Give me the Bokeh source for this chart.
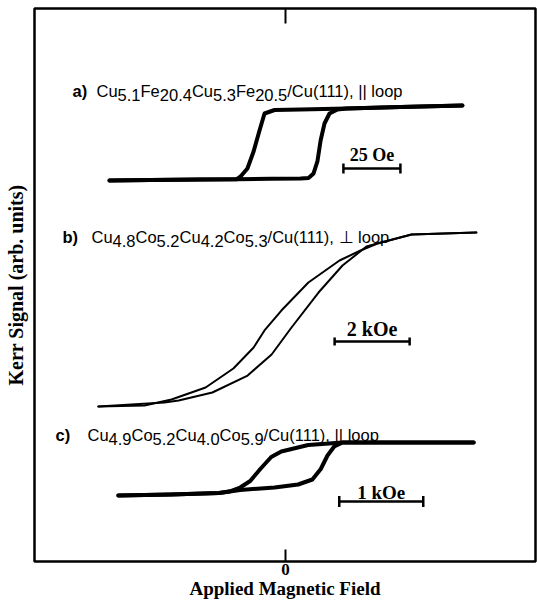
from bokeh.plotting import figure
from bokeh.models import Range1d, LinearAxis, FixedTicker, Label
from bokeh.embed import file_html
from bokeh.resources import INLINE

# ---------------- data ----------------
# panel a) field in Oe, Kerr signal normalised to +-1
a_up_field = [-77.2, -59.2, -37.3, -21.1, -6.6, 6.6, 10.1, 12.3, 14.0, 15.4, 17.1, 19.3, 22.8, 26.8, 50.4, 77.6]
a_up_signal = [-1.0, -0.987, -0.973, -0.965, -0.955, -0.947, -0.933, -0.813, -0.493, 0.067, 0.52, 0.787, 0.893, 0.92, 0.96, 1.0]
a_down_field = [77.6, 50.4, 26.8, 6.6, -4.8, -9.2, -11.4, -14.0, -16.7, -19.7, -21.5, -37.3, -59.2, -77.2]
a_down_signal = [1.0, 0.96, 0.92, 0.893, 0.88, 0.787, 0.333, -0.227, -0.68, -0.893, -0.968, -0.973, -0.987, -1.0]

# panel b) field in kOe
b_down_field = [5.09, 3.36, 2.45, 2.0, 1.44, 0.61, -0.11, -0.56, -0.85, -1.39, -2.13, -3.04, -3.76, -4.99]
b_down_signal = [1.0, 0.977, 0.874, 0.793, 0.678, 0.425, 0.103, -0.126, -0.322, -0.563, -0.782, -0.920, -0.989, -1.0]
b_up_field = [-4.99, -3.23, -2.85, -1.95, -1.01, -0.37, 0.16, 0.88, 1.52, 2.16, 2.45, 3.36, 5.09]
b_up_signal = [-1.0, -0.954, -0.931, -0.839, -0.644, -0.402, -0.092, 0.310, 0.621, 0.839, 0.874, 0.977, 1.0]

# panel c) field in kOe
c_down_field = [2.24, 1.37, 0.68, 0.27, -0.05, -0.17, -0.30, -0.42, -0.54, -0.67, -0.79, -1.36, -1.99]
c_down_signal = [1.0, 1.0, 1.0, 0.904, 0.654, 0.442, -0.019, -0.481, -0.731, -0.885, -0.942, -1.0, -1.04]
c_up_field = [-1.99, -1.36, -0.79, -0.54, -0.13, 0.15, 0.32, 0.42, 0.50, 0.58, 0.68, 1.37, 2.24]
c_up_signal = [-1.04, -1.0, -0.942, -0.827, -0.731, -0.615, -0.423, -0.019, 0.5, 0.846, 1.0, 1.0, 1.0]

# sample labels
panel_tags = ["a)", "b)", "c)"]
a_layers = [("Cu", "5.1"), ("Fe", "20.4"), ("Cu", "5.3"), ("Fe", "20.5")]
b_layers = [("Cu", "4.8"), ("Co", "5.2"), ("Cu", "4.2"), ("Co", "5.3")]
c_layers = [("Cu", "4.9"), ("Co", "5.2"), ("Cu", "4.0"), ("Co", "5.9")]
substrate = "/Cu(111), "
loop_types = ["|| loop", "\u22a5 loop", "|| loop"]

# scale bars
bar_values = [25, 2, 1]
bar_units = ["Oe", "kOe", "kOe"]
bar_starts = [25.4, 1.31, 0.64]   # field at which each bar starts

x_ticks = [0]
x_tick_labels = {0: "0"}
x_title = "Applied Magnetic Field"
y_title = "Kerr Signal (arb. units)"

# ---------------- layout helpers ----------------
ZERO_X = 285.0   # reference pixel of zero field
TOP = 8.0
def X(px):       # reference pixel -> data x
    return px - ZERO_X
def Y(py):       # reference pixel -> data y
    return TOP - py

panels = [
    # px per unit, centre y, half amplitude, line width
    dict(scale=2.28, cy=142.5, half=37.5, lw=4.0),
    dict(scale=37.5, cy=319.0, half=87.0, lw=2.0),
    dict(scale=84.0, cy=468.0, half=26.0, lw=4.0),
]

p = figure(width=537, height=601, output_backend="svg", toolbar_location=None,
           x_range=Range1d(X(34), X(535)), y_range=Range1d(Y(561), Y(8)),
           x_axis_location=None, y_axis_location=None,
           min_border_left=34, min_border_right=2, min_border_top=8, min_border_bottom=0)
p.grid.grid_line_color = None
p.outline_line_color = "black"
p.outline_line_width = 2.5
p.background_fill_color = "white"
p.border_fill_color = "white"

# axes
xb = LinearAxis(ticker=FixedTicker(ticks=x_ticks), axis_label=x_title)
xb.major_label_overrides = x_tick_labels
xb.axis_line_color = None
xb.major_tick_in = 12
xb.major_tick_out = 0
xb.major_tick_line_width = 2
xb.minor_tick_line_color = None
xb.major_label_standoff = 2
xb.major_label_text_font = "Liberation Serif"
xb.major_label_text_font_style = "bold"
xb.major_label_text_font_size = "17px"
xb.major_label_text_color = "black"
xb.axis_label_standoff = 0
xb.axis_label_text_font = "Liberation Serif"
xb.axis_label_text_font_style = "bold"
xb.axis_label_text_font_size = "19px"
xb.axis_label_text_color = "black"
p.add_layout(xb, "below")

yl = LinearAxis(ticker=FixedTicker(ticks=[]), axis_label=y_title)
yl.axis_line_color = None
yl.major_tick_line_color = None
yl.minor_tick_line_color = None
yl.axis_label_standoff = 8
yl.axis_label_text_font = "Liberation Serif"
yl.axis_label_text_font_style = "bold"
yl.axis_label_text_font_size = "20px"
yl.axis_label_text_color = "black"
p.add_layout(yl, "left")

# top tick mark at zero field
p.segment(x0=x_ticks, x1=x_ticks, y0=[Y(8)] * len(x_ticks), y1=[Y(23)] * len(x_ticks),
          line_color="black", line_width=2)

# curves
curves = [
    (a_up_field, a_up_signal, a_down_field, a_down_signal),
    (b_up_field, b_up_signal, b_down_field, b_down_signal),
    (c_up_field, c_up_signal, c_down_field, c_down_signal),
]
for (uf, us, df, ds), pan in zip(curves, panels):
    for f, s in ((uf, us), (df, ds)):
        xs = [v * pan["scale"] for v in f]
        ys = [Y(pan["cy"]) + v * pan["half"] for v in s]
        p.line(xs, ys, line_color="black", line_width=pan["lw"],
               line_join="round", line_cap="round")

# scale bars
bar_y = [168, 341, 501]
bar_tick = [5, 4, 5.5]
bar_label_base = [154, 328, 492]
bar_font = ["18px", "20px", "19px"]
for val, unit, start, pan, by, bt, lb, fs in zip(bar_values, bar_units, bar_starts, panels,
                                                bar_y, bar_tick, bar_label_base, bar_font):
    x0 = start * pan["scale"]
    x1 = (start + val) * pan["scale"]
    p.segment(x0=[x0, x0, x1], y0=[Y(by), Y(by) + bt, Y(by) + bt],
              x1=[x1, x0, x1], y1=[Y(by), Y(by) - bt, Y(by) - bt],
              line_color="black", line_width=2.5)
    p.add_layout(Label(x=(x0 + x1) / 2, y=Y(lb), text=f"{val} {unit}",
                       text_align="center", text_baseline="alphabetic",
                       text_font="Liberation Serif", text_font_style="bold",
                       text_font_size=fs, text_color="black"))

# Arial / Liberation Sans advance widths (1/1000 em)
WID = {"C": 722, "u": 556, "F": 611, "e": 556, "o": 556, "l": 222, "p": 556,
       ".": 278, "/": 278, "(": 333, ")": 333, ",": 278, " ": 278, "|": 260,
       "\u22a5": 700}
for d in "0123456789":
    WID[d] = 556
def tw(s, size):
    return sum(WID.get(ch, 556) for ch in s) * size / 1000.0

FS = 16.5
SUB = 4.0
tag_x = [72, 62, 55]
body_x = [96, 91, 87]
base_y = [90, 236, 434]
for tag, layers, loop, tx, bx, by in zip(panel_tags, [a_layers, b_layers, c_layers], loop_types,
                                         tag_x, body_x, base_y):
    p.add_layout(Label(x=X(tx), y=Y(by), text=tag, text_baseline="alphabetic",
                       text_font="Liberation Sans", text_font_style="bold",
                       text_font_size=f"{FS}px", text_color="black"))
    parts = []
    for el, n in layers:
        parts.append((el, False))
        parts.append((n, True))
    parts.append((substrate + loop, False))
    off = 0.0
    for txt, sub in parts:
        yy = Y(by + SUB) if sub else Y(by)
        p.add_layout(Label(x=X(bx), x_offset=off, y=yy, text=txt, text_baseline="alphabetic",
                           text_font="Liberation Sans", text_font_size=f"{FS}px",
                           text_color="black"))
        off += tw(txt, FS)

open("out.html", "w").write(file_html(p, INLINE))
